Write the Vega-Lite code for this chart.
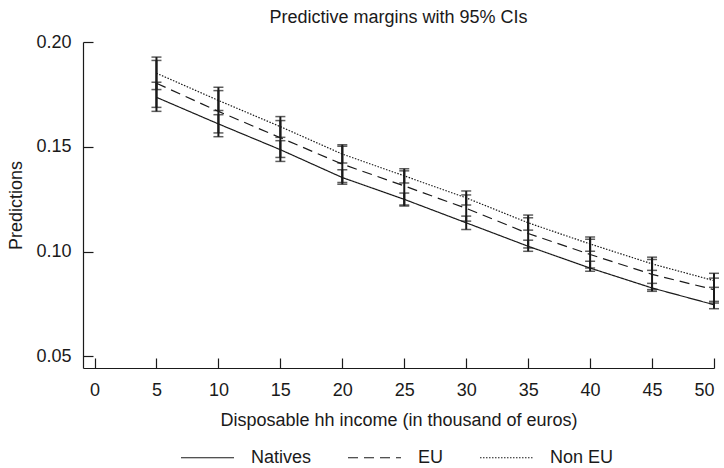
{
  "$schema": "https://vega.github.io/schema/vega-lite/v6.json",
  "autosize": {"type": "none"},
  "width": 631,
  "height": 326,
  "padding": {"left": 83, "top": 42, "right": 10, "bottom": 100},
  "background": "white",
  "title": {"text": "Predictive margins with 95% CIs", "fontSize": 18, "font": "Liberation Sans", "fontWeight": "normal", "color": "#1a1a1a", "anchor": "middle", "offset": 6},
  "data": {"values": [
    {"group": "Natives", "x": 5, "y": 0.1736, "lo": 0.1669, "hi": 0.1808},
    {"group": "Natives", "x": 10, "y": 0.1609, "lo": 0.1566, "hi": 0.1653},
    {"group": "Natives", "x": 15, "y": 0.1486, "lo": 0.1430, "hi": 0.1529},
    {"group": "Natives", "x": 20, "y": 0.1353, "lo": 0.1321, "hi": 0.1390},
    {"group": "Natives", "x": 25, "y": 0.1249, "lo": 0.1217, "hi": 0.1279},
    {"group": "Natives", "x": 30, "y": 0.1137, "lo": 0.1105, "hi": 0.1169},
    {"group": "Natives", "x": 35, "y": 0.1025, "lo": 0.1001, "hi": 0.1054},
    {"group": "Natives", "x": 40, "y": 0.0921, "lo": 0.0906, "hi": 0.0953},
    {"group": "Natives", "x": 45, "y": 0.0826, "lo": 0.0810, "hi": 0.0848},
    {"group": "Natives", "x": 50, "y": 0.0746, "lo": 0.0727, "hi": 0.0762},
    {"group": "EU", "x": 5, "y": 0.1803, "lo": 0.1688, "hi": 0.1912},
    {"group": "EU", "x": 10, "y": 0.1669, "lo": 0.1548, "hi": 0.1784},
    {"group": "EU", "x": 15, "y": 0.1543, "lo": 0.1449, "hi": 0.1644},
    {"group": "EU", "x": 20, "y": 0.1417, "lo": 0.1329, "hi": 0.1510},
    {"group": "EU", "x": 25, "y": 0.1313, "lo": 0.1222, "hi": 0.1385},
    {"group": "EU", "x": 30, "y": 0.1206, "lo": 0.1145, "hi": 0.1270},
    {"group": "EU", "x": 35, "y": 0.1086, "lo": 0.1017, "hi": 0.1161},
    {"group": "EU", "x": 40, "y": 0.0986, "lo": 0.0921, "hi": 0.1058},
    {"group": "EU", "x": 45, "y": 0.0891, "lo": 0.0818, "hi": 0.0962},
    {"group": "EU", "x": 50, "y": 0.0818, "lo": 0.0754, "hi": 0.0873},
    {"group": "Non EU", "x": 5, "y": 0.1851, "lo": 0.1773, "hi": 0.1928},
    {"group": "Non EU", "x": 10, "y": 0.1721, "lo": 0.1673, "hi": 0.1768},
    {"group": "Non EU", "x": 15, "y": 0.1596, "lo": 0.1545, "hi": 0.1625},
    {"group": "Non EU", "x": 20, "y": 0.1465, "lo": 0.1422, "hi": 0.1503},
    {"group": "Non EU", "x": 25, "y": 0.1361, "lo": 0.1327, "hi": 0.1395},
    {"group": "Non EU", "x": 30, "y": 0.1256, "lo": 0.1222, "hi": 0.1289},
    {"group": "Non EU", "x": 35, "y": 0.1137, "lo": 0.1102, "hi": 0.1174},
    {"group": "Non EU", "x": 40, "y": 0.1036, "lo": 0.1001, "hi": 0.1069},
    {"group": "Non EU", "x": 45, "y": 0.0941, "lo": 0.0910, "hi": 0.0973},
    {"group": "Non EU", "x": 50, "y": 0.0861, "lo": 0.0829, "hi": 0.0896}
  ]},
  "encoding": {
    "x": {"field": "x", "type": "quantitative",
      "scale": {"domain": [-0.93, 50], "nice": false, "zero": false},
      "axis": {"values": [0, 5, 10, 15, 20, 25, 30, 35, 40, 45, 50], "title": "Disposable hh income (in thousand of euros)", "grid": false, "tickSize": -10, "labelPadding": 23, "titlePadding": 12}}
  },
  "layer": [
    {
      "mark": {"type": "line", "color": "#1a1a1a", "strokeWidth": 1.2},
      "encoding": {
        "y": {"field": "y", "type": "quantitative",
          "scale": {"domain": [0.0444, 0.2], "nice": false, "zero": false},
          "axis": {"values": [0.05, 0.1, 0.15, 0.2], "format": ".2f", "title": "Predictions", "grid": false, "tickSize": -10, "labelPadding": 22, "titlePadding": 10}},
        "strokeDash": {"field": "group", "type": "nominal",
          "scale": {"domain": ["Natives", "EU", "Non EU"], "range": [[1, 0], [10, 6], [1.5, 1.5]]},
          "legend": {"title": null, "orient": "none", "legendX": 97, "legendY": 388, "direction": "horizontal", "symbolType": "stroke", "symbolSize": 2809, "symbolStrokeWidth": 1.2, "symbolStrokeColor": "#1a1a1a", "labelFontSize": 18, "labelFont": "Liberation Sans", "labelColor": "#1a1a1a", "labelOffset": 16, "columnPadding": 33}}
      }
    },
    {
      "mark": {"type": "rule", "color": "#1a1a1a", "strokeWidth": 2},
      "encoding": {"y": {"field": "lo", "type": "quantitative"}, "y2": {"field": "hi"}}
    },
    {
      "mark": {"type": "tick", "orient": "horizontal", "color": "#1a1a1a", "size": 10, "thickness": 1.5},
      "encoding": {"y": {"field": "lo", "type": "quantitative"}}
    },
    {
      "mark": {"type": "tick", "orient": "horizontal", "color": "#1a1a1a", "size": 10, "thickness": 1.5},
      "encoding": {"y": {"field": "hi", "type": "quantitative"}}
    }
  ],
  "config": {
    "font": "Liberation Sans",
    "view": {"stroke": null},
    "axis": {"labelFontSize": 18, "titleFontSize": 18, "labelFont": "Liberation Sans", "titleFont": "Liberation Sans", "titleFontWeight": "normal", "labelColor": "#1a1a1a", "titleColor": "#1a1a1a", "domainColor": "#1a1a1a", "tickColor": "#1a1a1a", "domainWidth": 1.2, "tickWidth": 1.2},
    "axisY": {"labelAngle": 0}
  }
}
